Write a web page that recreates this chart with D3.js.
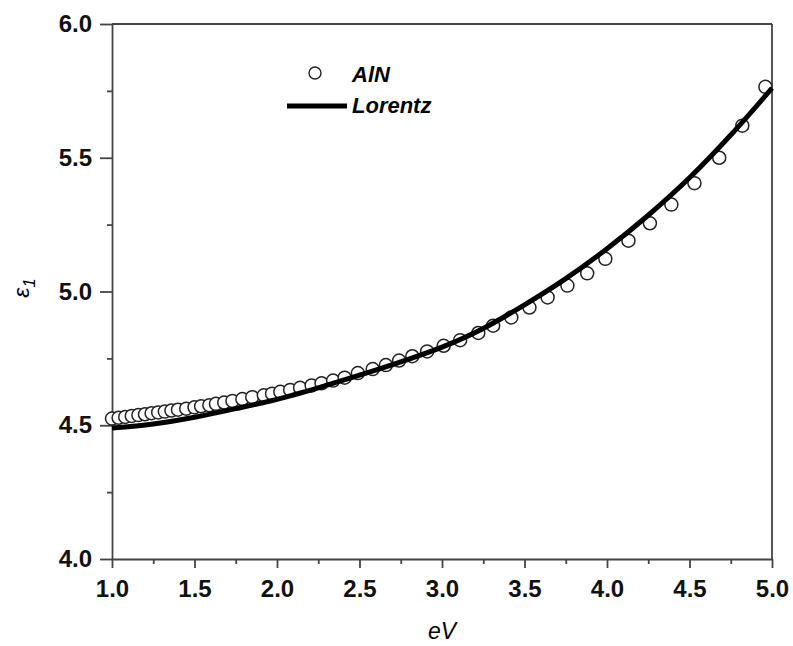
<!DOCTYPE html>
<html>
<head>
<meta charset="utf-8">
<script src="https://cdn.jsdelivr.net/npm/d3@7"></script>
<style>
  body { margin: 0; background: #fff; }
  .tick text { font-family: "Liberation Sans", Arial, sans-serif; font-weight: bold; font-size: 24px; fill: #111; }
  .domain, .tick line { stroke: #444; stroke-width: 1.8; }
</style>
</head>
<body>
<div id="chart"></div>
<script>
// measured AlN points (eV, eps1)
let alnEnergy = [1.00, 1.04, 1.08, 1.12, 1.16, 1.20, 1.24, 1.28, 1.32, 1.36, 1.40, 1.45, 1.50, 1.54, 1.59, 1.63, 1.68,
                 1.73, 1.79, 1.85, 1.92, 1.97, 2.02, 2.08, 2.14, 2.21, 2.27, 2.34, 2.41,
                 2.49, 2.58, 2.66, 2.74, 2.82, 2.91, 3.01, 3.11, 3.22,
                 3.31, 3.42, 3.53, 3.64, 3.76, 3.88, 3.99,
                 4.13, 4.26, 4.39, 4.53, 4.68, 4.82, 4.96];
let alnEps = [4.525, 4.528, 4.531, 4.535, 4.538, 4.541, 4.545, 4.548, 4.551, 4.555, 4.558, 4.562, 4.567, 4.571, 4.575, 4.580, 4.585,
              4.591, 4.598, 4.605, 4.612, 4.618, 4.625, 4.632, 4.640, 4.649, 4.657, 4.667, 4.678,
              4.695, 4.710, 4.725, 4.742, 4.758, 4.776, 4.797, 4.818, 4.845,
              4.872, 4.903, 4.940, 4.978, 5.022, 5.068, 5.122,
              5.190, 5.255, 5.325, 5.405, 5.500, 5.620, 5.765];

// Lorentz fit
let lorentzEnergy = [1.00, 1.25, 1.50, 1.75, 2.00, 2.25, 2.50, 2.75, 3.00, 3.25, 3.50, 3.75, 4.00, 4.25, 4.50, 4.75, 5.00];
let lorentzEps = [4.490, 4.505, 4.530, 4.562, 4.597, 4.640, 4.687, 4.737, 4.792, 4.862, 4.950, 5.048, 5.160, 5.285, 5.425, 5.585, 5.760];

let xTicks = [1.0, 1.5, 2.0, 2.5, 3.0, 3.5, 4.0, 4.5, 5.0];
let xMinor = [1.25, 1.75, 2.25, 2.75, 3.25, 3.75, 4.25, 4.75];
let yTicks = [4.0, 4.5, 5.0, 5.5, 6.0];
let yMinor = [4.25, 4.75, 5.25, 5.75];

let W = 793, H = 646;
let margin = {left: 112, right: 772, top: 24, bottom: 559};

let svg = d3.select("#chart")
    .append("svg")
    .attr("width", W)
    .attr("height", H);

let xScale = d3.scaleLinear().domain([1, 5]).range([margin.left, margin.right]);
let yScale = d3.scaleLinear().domain([4, 6]).range([margin.bottom, margin.top]);

// frame (top + right)
svg.append("line")
    .attr("x1", margin.left).attr("x2", margin.right).attr("y1", margin.top).attr("y2", margin.top)
    .attr("stroke", "#444").attr("stroke-width", 1.8);
svg.append("line")
    .attr("x1", margin.right).attr("x2", margin.right).attr("y1", margin.top).attr("y2", margin.bottom)
    .attr("stroke", "#444").attr("stroke-width", 1.8);

// minor ticks first
svg.append("g")
    .attr("transform", "translate(0," + margin.bottom + ")")
    .call(d3.axisBottom(xScale).tickValues(xMinor).tickSize(5).tickFormat(""))
    .call(g => g.select(".domain").remove());
svg.append("g")
    .attr("transform", "translate(" + margin.left + ",0)")
    .call(d3.axisLeft(yScale).tickValues(yMinor).tickSize(5).tickFormat(""))
    .call(g => g.select(".domain").remove());

let xaxis = svg.append("g")
    .attr("id", "x-axis")
    .attr("transform", "translate(0," + margin.bottom + ")")
    .call(d3.axisBottom(xScale).tickValues(xTicks).tickSize(9).tickSizeOuter(0).tickPadding(12).tickFormat(d3.format(".1f")));

let yaxis = svg.append("g")
    .attr("id", "y-axis")
    .attr("transform", "translate(" + margin.left + ",0)")
    .call(d3.axisLeft(yScale).tickValues(yTicks).tickSize(12).tickSizeOuter(0).tickPadding(8).tickFormat(d3.format(".1f")));

// data circles
let pts = alnEnergy.map((e, i) => ({e: e, v: alnEps[i]}));
svg.append("g")
    .selectAll("circle")
    .data(pts)
    .join("circle")
    .attr("cx", d => xScale(d.e))
    .attr("cy", d => yScale(d.v))
    .attr("r", 6.5)
    .attr("fill", "#fff")
    .attr("stroke", "#222")
    .attr("stroke-width", 1.5);

// Lorentz line on top
let fit = lorentzEnergy.map((e, i) => [e, lorentzEps[i]]);
svg.append("path")
    .datum(fit)
    .attr("fill", "none")
    .attr("stroke", "#000")
    .attr("stroke-width", 5)
    .attr("d", d3.line().x(d => xScale(d[0])).y(d => yScale(d[1])).curve(d3.curveMonotoneX));

// legend
svg.append("circle")
    .attr("cx", 315).attr("cy", 73).attr("r", 6)
    .attr("fill", "#fff").attr("stroke", "#222").attr("stroke-width", 1.4);
svg.append("line")
    .attr("x1", 287).attr("x2", 347).attr("y1", 106).attr("y2", 106)
    .attr("stroke", "#000").attr("stroke-width", 5);
let legendFont = "'Liberation Sans', Arial, sans-serif";
svg.append("text")
    .text("AlN")
    .attr("x", 352).attr("y", 82)
    .style("font-family", legendFont).style("font-size", "22px")
    .style("font-weight", "bold").style("font-style", "italic");
svg.append("text")
    .text("Lorentz")
    .attr("x", 352).attr("y", 113)
    .style("font-family", legendFont).style("font-size", "22px")
    .style("font-weight", "bold").style("font-style", "italic");

// axis titles
svg.append("text")
    .text("eV")
    .attr("x", (margin.left + margin.right) / 2).attr("y", 639)
    .attr("text-anchor", "middle")
    .style("font-family", legendFont).style("font-size", "23px").style("font-style", "italic");

let ylab = svg.append("text")
    .attr("transform", "translate(29,288)rotate(-90)")
    .attr("text-anchor", "middle")
    .style("font-family", legendFont).style("font-size", "23px").style("font-style", "italic");
ylab.append("tspan").text("ε");
ylab.append("tspan").text("1").attr("dy", 6).style("font-size", "17px");
</script>
</body>
</html>
